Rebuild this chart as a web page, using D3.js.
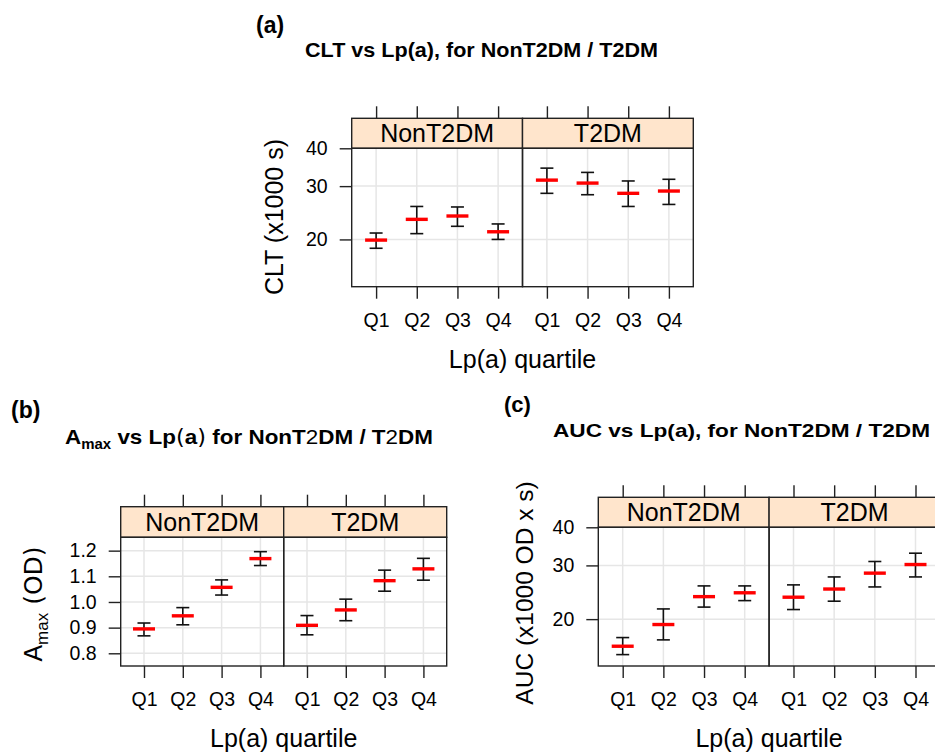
<!DOCTYPE html>
<html>
<head>
<meta charset="utf-8">
<script src="https://cdn.jsdelivr.net/npm/d3@7"></script>
<style>
  body { margin: 0; background: #fff; }
  svg { display: block; }
  text { font-family: "Liberation Sans", Arial, sans-serif; fill: #000; }
</style>
</head>
<body>
<div id="chart"></div>
<script>
// categories
var quartiles = ['Q1', 'Q2', 'Q3', 'Q4'];
var groups = ['NonT2DM', 'T2DM'];

// CLT (x1000 s): NonT2DM Q1..Q4 then T2DM Q1..Q4
var cltMean = [19.9, 23.3, 23.9, 21.2, 31.4, 30.7, 28.4, 28.9];
var cltLow  = [18.7, 20.9, 22.1, 20.0, 28.4, 28.1, 25.7, 26.1];
var cltHigh = [21.0, 25.7, 25.6, 22.5, 34.4, 33.3, 31.2, 31.6];

// Amax (OD)
var amaxMean = [0.895, 0.946, 1.057, 1.169, 0.909, 0.969, 1.083, 1.129];
var amaxLow  = [0.868, 0.911, 1.027, 1.142, 0.872, 0.927, 1.042, 1.085];
var amaxHigh = [0.918, 0.978, 1.086, 1.196, 0.947, 1.011, 1.124, 1.170];

// AUC (x1000 OD x s)
var aucMean = [16.3, 19.2, 23.7, 24.4, 23.6, 25.1, 28.3, 30.2];
var aucLow  = [15.3, 17.1, 21.9, 23.0, 21.5, 22.9, 25.5, 27.5];
var aucHigh = [17.4, 21.6, 25.7, 25.7, 25.9, 27.5, 30.9, 32.9];

// tick labels
var cltTicks = [20, 30, 40];
var amaxTicks = [0.8, 0.9, 1.0, 1.1, 1.2];
var aucTicks = [20, 30, 40];

var W = 935, H = 754;
var svg = d3.select('#chart').append('svg').attr('width', W).attr('height', H);

var STRIP_FILL = '#ffe5cc', GRID = '#e6e6e6', FRAME = '#222';

function rows(mean, low, high){
    var out = [];
    groups.forEach(function(g, gi){
        quartiles.forEach(function(q, qi){
            var i = gi * 4 + qi;
            out.push({group: g, gi: gi, q: q, mean: mean[i], low: low[i], high: high[i]});
        });
    });
    return out;
}

function drawPanel(cfg){
    var g = svg.append('g');
    var data = rows(cfg.mean, cfg.low, cfg.high);
    var y = cfg.y.range([cfg.bottom, cfg.top]);
    var xs = groups.map(function(gr, gi){
        var x0 = cfg.left + gi * cfg.w;
        return d3.scalePoint().domain(quartiles).range([x0, x0 + cfg.w]).padding(0.6);
    });

    // grid
    xs.forEach(function(x){
        g.selectAll(null).data(quartiles).enter().append('line')
            .attr('x1', d => x(d)).attr('x2', d => x(d))
            .attr('y1', cfg.top).attr('y2', cfg.bottom)
            .attr('stroke', GRID).attr('stroke-width', 1.5);
        g.selectAll(null).data(cfg.ticks).enter().append('line')
            .attr('x1', x.range()[0]).attr('x2', x.range()[1])
            .attr('y1', d => y(d)).attr('y2', d => y(d))
            .attr('stroke', GRID).attr('stroke-width', 1.5);
    });

    // strips
    groups.forEach(function(gr, gi){
        var x0 = cfg.left + gi * cfg.w;
        g.append('rect').attr('x', x0).attr('y', cfg.stripTop)
            .attr('width', cfg.w).attr('height', cfg.top - cfg.stripTop)
            .attr('fill', STRIP_FILL).attr('stroke', FRAME).attr('stroke-width', 1.4);
        g.append('text').attr('x', x0 + cfg.w / 2).attr('y', cfg.top - 6)
            .attr('text-anchor', 'middle').attr('font-size', 25).text(gr);
        g.append('rect').attr('x', x0).attr('y', cfg.top)
            .attr('width', cfg.w).attr('height', cfg.bottom - cfg.top)
            .attr('fill', 'none').attr('stroke', FRAME).attr('stroke-width', 1.4);
    });

    // x axes (bottom with labels, top ticks only)
    xs.forEach(function(x){
        var ab = g.append('g').attr('transform', 'translate(0,' + cfg.bottom + ')')
            .call(d3.axisBottom(x).tickSize(12).tickPadding(14));
        ab.select('.domain').remove();
        ab.selectAll('line').attr('stroke', FRAME).attr('stroke-width', 1.4);
        ab.selectAll('text').attr('font-size', 19.5).attr('font-family', null).attr('fill', '#000');
        var at = g.append('g').attr('transform', 'translate(0,' + cfg.stripTop + ')')
            .call(d3.axisTop(x).tickSize(12).tickFormat(''));
        at.select('.domain').remove();
        at.selectAll('line').attr('stroke', FRAME).attr('stroke-width', 1.4);
    });

    // y axis
    var ay = g.append('g').attr('transform', 'translate(' + cfg.left + ',0)')
        .call(d3.axisLeft(y).tickValues(cfg.ticks).tickFormat(cfg.fmt).tickSize(12).tickPadding(12));
    ay.select('.domain').remove();
    ay.selectAll('line').attr('stroke', FRAME).attr('stroke-width', 1.4);
    ay.selectAll('text').attr('font-size', 19.5).attr('font-family', null).attr('fill', '#000');

    // error bars
    var marks = g.selectAll('g.mark').data(data).enter().append('g').attr('class', 'mark');
    var cx = d => xs[d.gi](d.q);
    marks.append('line').attr('x1', cx).attr('x2', cx)
        .attr('y1', d => y(d.low)).attr('y2', d => y(d.high))
        .attr('stroke', '#111').attr('stroke-width', 1.6);
    ['low', 'high'].forEach(function(k){
        marks.append('line').attr('x1', d => cx(d) - 6.5).attr('x2', d => cx(d) + 6.5)
            .attr('y1', d => y(d[k])).attr('y2', d => y(d[k]))
            .attr('stroke', '#111').attr('stroke-width', 1.6);
    });
    marks.append('line').attr('x1', d => cx(d) - 11).attr('x2', d => cx(d) + 11)
        .attr('y1', d => y(d.mean)).attr('y2', d => y(d.mean))
        .attr('stroke', '#f00').attr('stroke-width', 3.4);

    // x title
    g.append('text').attr('x', cfg.left + cfg.w).attr('y', cfg.bottom + 81)
        .attr('text-anchor', 'middle').attr('font-size', 25).text('Lp(a) quartile');

    return g;
}

// panel (a)
drawPanel({left: 351.7, w: 170.8, stripTop: 118.3, top: 148.3, bottom: 286.7,
    y: d3.scaleLog().domain([13.96, 40]), ticks: cltTicks, fmt: d3.format('d'),
    mean: cltMean, low: cltLow, high: cltHigh});
svg.append('text').attr('x', 256).attr('y', 33).attr('font-size', 23).attr('font-weight', 'bold').text('(a)');
svg.append('text').attr('x', 305).attr('y', 57).attr('font-size', 20.5).attr('font-weight', 'bold')
    .attr('textLength', 353).attr('lengthAdjust', 'spacingAndGlyphs')
    .text('CLT vs Lp(a), for NonT2DM / T2DM');
svg.append('text').attr('transform', 'translate(283,217) rotate(-90)')
    .attr('text-anchor', 'middle').attr('font-size', 25).text('CLT (x1000 s)');

// panel (b)
drawPanel({left: 120.7, w: 163, stripTop: 506.7, top: 537.3, bottom: 666,
    y: d3.scaleLinear().domain([0.7505, 1.252]), ticks: amaxTicks, fmt: d3.format('.1f'),
    mean: amaxMean, low: amaxLow, high: amaxHigh});
svg.append('text').attr('x', 11).attr('y', 418).attr('font-size', 23).attr('font-weight', 'bold').text('(b)');
var tb = svg.append('text').attr('x', 65).attr('y', 443.5).attr('font-size', 21).attr('font-weight', 'bold')
    .attr('textLength', 368).attr('lengthAdjust', 'spacingAndGlyphs');
tb.append('tspan').text('A');
tb.append('tspan').attr('font-size', 14).attr('dy', 5).text('max');
tb.append('tspan').attr('dy', -5).text(' vs Lp');
tb.append('tspan').attr('font-weight', 'normal').attr('font-family', 'DejaVu Sans').text('(');
tb.append('tspan').text('a');
tb.append('tspan').attr('font-weight', 'normal').attr('font-family', 'DejaVu Sans').text(')');
tb.append('tspan').text(' for NonT');
tb.append('tspan').attr('font-weight', 'normal').text('2');
tb.append('tspan').text('DM / T');
tb.append('tspan').attr('font-weight', 'normal').text('2');
tb.append('tspan').text('DM');
var yb = svg.append('text').attr('transform', 'translate(41.5,604) rotate(-90)')
    .attr('text-anchor', 'middle').attr('font-size', 25);
yb.append('tspan').text('A');
yb.append('tspan').attr('font-size', 17).attr('dy', 6).text('max');
yb.append('tspan').attr('dy', -6).attr('font-family', 'DejaVu Sans').text(' (OD)');

// panel (c)
drawPanel({left: 598.3, w: 170.8, stripTop: 497.3, top: 527.3, bottom: 666,
    y: d3.scaleLog().domain([14.04, 40]), ticks: aucTicks, fmt: d3.format('d'),
    mean: aucMean, low: aucLow, high: aucHigh});
svg.append('text').attr('x', 504).attr('y', 412).attr('font-size', 22).attr('font-weight', 'bold').text('(c)');
svg.append('text').attr('x', 553).attr('y', 436.5).attr('font-size', 19).attr('font-weight', 'bold')
    .attr('textLength', 377).attr('lengthAdjust', 'spacingAndGlyphs')
    .text('AUC vs Lp(a), for NonT2DM / T2DM');
svg.append('text').attr('transform', 'translate(533,593) rotate(-90)')
    .attr('text-anchor', 'middle').attr('font-size', 24.5).text('AUC (x1000 OD x s)');
</script>
</body>
</html>
